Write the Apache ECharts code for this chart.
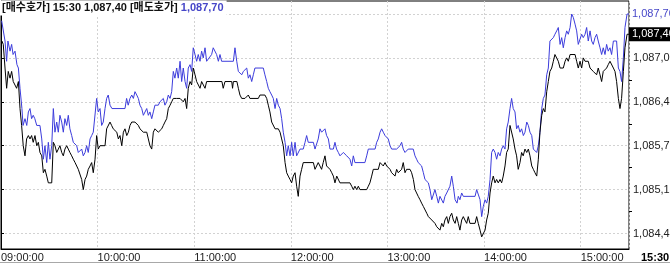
<!DOCTYPE html>
<html><head><meta charset="utf-8">
<script src="https://cdn.jsdelivr.net/npm/echarts@6/dist/echarts.min.js"></script>
<style>html,body{margin:0;padding:0;background:#fff;overflow:hidden}#c{width:670px;height:263px}</style>
</head><body><div id="c"></div>
<script>
// minutes since 09:00, price
const askPoints = [[0.4,1087.60],[2.5,1087.30],[3.5,1087.00],[4.3,1087.30],[5.6,1087.15],[6.6,1087.25],[7.5,1087.10],[8.7,1087.15],[9.9,1086.95],[10.8,1086.90],[11.8,1086.60],[13,1086.30],[13.7,1086.05],[14.9,1086.15],[16,1086.05],[17,1086.25],[18,1086.30],[19,1086.15],[20,1086.20],[21,1086.15],[22.2,1086.05],[24.2,1086.05],[25.3,1085.85],[26.3,1085.55],[27.3,1085.75],[28.4,1085.50],[29.4,1085.80],[30.4,1085.55],[31.5,1085.75],[32.5,1086.30],[33.5,1085.95],[34.6,1086.10],[35.6,1085.95],[36.6,1086.20],[37.7,1086.10],[38.7,1085.95],[39.7,1086.15],[40.8,1086.05],[41.8,1086.20],[42.8,1086.00],[43.9,1085.90],[44.9,1085.80],[47,1085.75],[48,1085.65],[49,1085.65],[50.1,1085.70],[51.1,1085.60],[52.2,1085.65],[53.2,1085.75],[54.2,1085.65],[55.3,1085.85],[56.3,1085.90],[57.3,1085.95],[58.4,1085.95],[59.4,1086.45],[60.4,1086.25],[61.5,1086.30],[62.5,1086.05],[63.5,1086.10],[64.6,1086.30],[65.6,1086.45],[66.6,1086.50],[67.7,1086.35],[68.9,1086.30],[77,1086.30],[78,1086.45],[79,1086.35],[80.1,1086.45],[81.2,1086.50],[82.2,1086.45],[83.2,1086.55],[84.3,1086.50],[85.3,1086.45],[86.3,1086.35],[87.4,1086.30],[88.4,1086.20],[90.5,1086.30],[91.5,1086.20],[92.5,1086.25],[93.6,1086.15],[94.6,1086.25],[95.6,1086.35],[96.7,1086.35],[97.7,1086.35],[98.7,1086.40],[100.8,1086.45],[101.8,1086.35],[102.9,1086.40],[103.9,1086.50],[105,1086.45],[106,1086.55],[107,1086.85],[108,1086.75],[109.1,1086.90],[110.1,1086.75],[111.2,1087.00],[112.2,1086.70],[113.2,1086.90],[114.3,1086.70],[115.3,1086.60],[116.3,1086.90],[117.4,1086.95],[118.4,1086.85],[119.4,1087.20],[120.5,1087.10],[121.5,1087.00],[122.5,1087.10],[123.6,1087.00],[124.6,1087.15],[125.6,1087.05],[126.7,1087.20],[127.7,1087.00],[128.7,1087.00],[130.8,1087.10],[131.8,1087.20],[132.9,1087.20],[133.9,1087.10],[135,1087.00],[136,1087.10],[137,1087.00],[144.3,1087.00],[145.3,1087.20],[146.4,1087.00],[147.4,1086.85],[148.4,1086.85],[149.5,1086.80],[150.5,1086.85],[151.5,1086.85],[152.6,1086.90],[153.6,1086.75],[154.6,1086.80],[155.7,1086.70],[156.7,1086.80],[157.7,1086.90],[162.9,1086.90],[163.9,1086.80],[165,1086.70],[166,1086.60],[167,1086.55],[168.1,1086.50],[169.1,1086.45],[170.2,1086.30],[171.2,1086.45],[172.2,1086.35],[173.3,1086.30],[174.3,1086.15],[175.3,1085.95],[176.4,1085.80],[177.4,1085.60],[178.4,1085.75],[179.5,1085.60],[180.5,1085.80],[181.5,1085.60],[182.6,1085.80],[183.6,1085.60],[185.7,1085.70],[187.7,1085.70],[188.8,1085.80],[189.8,1085.90],[190.8,1085.80],[194,1085.80],[195,1085.70],[196,1085.70],[197,1085.85],[198.1,1086.00],[199.1,1085.95],[200.1,1085.95],[201.2,1086.00],[202.2,1085.90],[203.3,1085.85],[204.3,1085.70],[205.3,1085.70],[206.4,1085.70],[207.4,1085.80],[208.4,1085.70],[209.5,1085.65],[210.5,1085.60],[212.6,1085.65],[214.7,1085.60],[216.7,1085.55],[217.8,1085.45],[218.8,1085.60],[219.8,1085.50],[226,1085.50],[227.1,1085.60],[228.1,1085.70],[232.3,1085.70],[233.3,1085.80],[234.3,1085.85],[235.4,1085.95],[236.4,1086.00],[237.4,1085.95],[238.5,1085.90],[239.5,1085.90],[240.5,1085.85],[241.6,1085.75],[242.6,1085.70],[245.7,1085.70],[247.8,1085.75],[248.8,1085.80],[249.8,1085.70],[250.9,1085.65],[251.9,1085.65],[252.9,1085.70],[256,1085.70],[257.1,1085.60],[258.1,1085.55],[259.1,1085.50],[260.2,1085.50],[261.2,1085.45],[262.3,1085.35],[263.3,1085.25],[264.4,1085.25],[265.4,1085.20],[266.4,1085.10],[267.5,1084.95],[268.5,1084.95],[269.5,1085.10],[270.6,1085.00],[271.6,1084.90],[272.6,1085.00],[273.7,1085.00],[274.7,1084.90],[275.7,1085.00],[276.8,1085.05],[277.8,1085.05],[278.8,1085.15],[279.9,1085.30],[280.9,1085.15],[282,1084.95],[283.2,1084.90],[284,1085.00],[285,1084.95],[286.1,1085.05],[287.1,1085.00],[294.4,1085.00],[295.4,1085.10],[296.4,1085.10],[297.5,1084.95],[298.5,1084.70],[299.5,1084.85],[300.6,1084.95],[301.6,1084.90],[302.6,1085.00],[303.7,1085.25],[304.7,1085.65],[305.7,1085.70],[306.8,1085.65],[307.8,1085.55],[308.8,1085.65],[309.9,1085.60],[310.9,1085.70],[311.9,1085.75],[313,1085.70],[314,1086.00],[315,1086.10],[316.1,1086.30],[317.1,1086.45],[318.1,1086.30],[319.2,1086.25],[320.2,1086.00],[321.2,1086.05],[322.3,1085.95],[323.3,1086.00],[324.4,1085.90],[325.4,1085.95],[326.5,1086.10],[327.5,1086.05],[328.5,1085.95],[329.6,1085.90],[330.6,1085.70],[331.6,1085.70],[332.7,1085.65],[333.7,1085.75],[334.7,1085.95],[335.8,1086.30],[336.8,1086.45],[337.8,1086.50],[338.9,1086.80],[339.9,1086.90],[340.9,1087.30],[342,1087.30],[343,1087.35],[344,1087.40],[345.1,1087.45],[346.1,1087.50],[347.2,1087.25],[348.2,1087.35],[349.2,1087.20],[350.3,1087.35],[351.3,1087.45],[352.3,1087.40],[353.4,1087.50],[354.4,1087.70],[355.4,1087.65],[356.5,1087.55],[357.5,1087.45],[358.5,1087.25],[359.6,1087.25],[360.6,1087.40],[361.6,1087.35],[362.7,1087.40],[363.7,1087.50],[364.7,1087.30],[365.8,1087.45],[366.8,1087.30],[367.8,1087.25],[368.9,1087.35],[369.9,1087.40],[370.9,1087.30],[372,1087.20],[373,1087.10],[374,1087.20],[375.1,1087.10],[376.1,1087.25],[377.1,1087.15],[378.2,1087.20],[379.2,1087.10],[380.3,1087.30],[382.3,1087.30],[383.4,1086.90],[384.4,1086.85],[385.4,1086.70],[386.5,1087.05],[387.5,1087.50],[388.8,1087.70],[390,1087.70]];

const bidPoints = [[0.6,1087.30],[1.4,1087.25],[2.5,1086.90],[3.5,1086.60],[4.5,1086.85],[5.6,1086.75],[6.6,1086.85],[7.6,1086.70],[8.7,1086.70],[9.7,1086.60],[10.8,1086.70],[11.8,1086.30],[12.8,1086.05],[13.8,1085.75],[14.9,1085.60],[15.9,1085.85],[17,1085.90],[18,1085.85],[19,1085.90],[20,1085.80],[21.1,1085.90],[22.2,1085.75],[23.2,1085.80],[24.2,1085.65],[25.3,1085.60],[26.3,1085.35],[27.3,1085.40],[28.4,1085.30],[29.4,1085.20],[31.5,1085.20],[32.5,1085.80],[33.5,1085.75],[34.6,1085.65],[35.6,1085.70],[36.6,1085.75],[37.7,1085.65],[38.7,1085.60],[39.7,1085.70],[40.8,1085.75],[41.8,1085.70],[42.8,1085.65],[43.9,1085.60],[44.9,1085.55],[46,1085.50],[48,1085.40],[50.1,1085.25],[51.1,1085.10],[52.2,1085.25],[53.2,1085.30],[54.2,1085.40],[55.3,1085.45],[56.3,1085.50],[57.3,1085.35],[58.4,1085.55],[59.4,1085.90],[60.4,1085.70],[61.5,1085.75],[64.6,1085.75],[65.6,1086.00],[66.6,1086.00],[67.7,1086.10],[68.7,1086.05],[69.7,1086.00],[71.9,1085.95],[72.9,1085.85],[73.9,1085.90],[75,1085.75],[76,1085.95],[77,1086.00],[78.1,1085.90],[79.1,1085.95],[80.1,1086.05],[81.2,1086.10],[83.2,1086.10],[85.3,1086.05],[86.3,1086.00],[88.4,1085.95],[90.5,1085.95],[91.5,1085.85],[92.5,1085.75],[93.6,1085.70],[94.6,1085.95],[95.6,1086.00],[96.7,1086.00],[97.7,1085.95],[98.7,1085.95],[99.8,1086.00],[100.8,1086.05],[101.8,1086.10],[102.9,1086.15],[103.9,1086.30],[105,1086.35],[106,1086.40],[107,1086.45],[108.1,1086.45],[109.1,1086.45],[110.1,1086.45],[111.2,1086.45],[113.2,1086.40],[114.3,1086.45],[115.3,1086.30],[116.3,1086.60],[117.4,1086.70],[118.4,1086.65],[119.4,1086.90],[120.5,1086.80],[121.5,1086.70],[122.5,1086.70],[123.6,1086.60],[124.6,1086.70],[125.6,1086.70],[126.7,1086.60],[127.7,1086.70],[137.2,1086.70],[138,1086.60],[139.1,1086.70],[143.3,1086.70],[143.8,1086.60],[144.3,1086.70],[146.5,1086.70],[147.4,1086.60],[148.4,1086.50],[149.5,1086.45],[150.5,1086.45],[151.5,1086.45],[153.6,1086.50],[154.6,1086.45],[159.8,1086.45],[160.8,1086.50],[163.9,1086.50],[165,1086.45],[166,1086.35],[167,1086.25],[168.1,1086.10],[170.2,1086.00],[172.2,1086.00],[173.3,1085.95],[174.3,1085.85],[175.3,1085.75],[176.4,1085.50],[177.4,1085.35],[178.4,1085.30],[179.5,1085.25],[180.5,1085.20],[181.5,1085.30],[182.6,1085.35],[183.6,1085.15],[184.6,1085.00],[185.7,1085.30],[186.7,1085.40],[187.7,1085.50],[194,1085.50],[195,1085.40],[196,1085.40],[197,1085.50],[198.1,1085.50],[199.1,1085.40],[200.1,1085.50],[201.2,1085.60],[202.2,1085.45],[204.3,1085.40],[205.4,1085.35],[206.4,1085.30],[207.4,1085.20],[208.5,1085.30],[209.5,1085.30],[210.5,1085.20],[216.7,1085.20],[217.8,1085.15],[218.8,1085.10],[219.8,1085.15],[220.9,1085.10],[221.9,1085.15],[222.9,1085.10],[227.1,1085.10],[228.1,1085.15],[229.1,1085.20],[230.2,1085.30],[231.2,1085.40],[234.3,1085.40],[235.4,1085.50],[236.4,1085.50],[237.4,1085.45],[238.5,1085.50],[239.5,1085.45],[241.6,1085.40],[242.6,1085.35],[244.7,1085.30],[245.7,1085.40],[246.7,1085.35],[247.8,1085.35],[248.8,1085.40],[249.8,1085.50],[250.9,1085.35],[251.9,1085.40],[254,1085.40],[255,1085.35],[256.1,1085.25],[257.1,1085.10],[258.1,1085.05],[259.1,1085.00],[260.2,1084.95],[261.2,1084.90],[262.3,1084.85],[263.3,1084.85],[264.4,1084.75],[265.4,1084.70],[266.4,1084.70],[267.5,1084.65],[268.5,1084.65],[269.5,1084.60],[270.6,1084.55],[271.6,1084.55],[272.6,1084.50],[273.7,1084.60],[274.7,1084.55],[275.7,1084.65],[276.8,1084.70],[277.8,1084.60],[278.8,1084.70],[279.9,1084.75],[280.9,1084.65],[282,1084.60],[283,1084.70],[284,1084.60],[285,1084.50],[286.1,1084.65],[287.1,1084.70],[288.1,1084.65],[289.2,1084.60],[290.2,1084.70],[291.2,1084.60],[294.4,1084.60],[295.4,1084.70],[296.4,1084.60],[297.5,1084.50],[298.5,1084.40],[299.5,1084.40],[300.6,1084.50],[301.6,1084.65],[302.6,1084.75],[303.7,1085.05],[304.7,1085.20],[305.7,1085.30],[306.8,1085.20],[307.8,1085.25],[308.8,1085.20],[309.9,1085.25],[310.9,1085.20],[311.9,1085.30],[313,1085.45],[314,1085.65],[315,1085.70],[316.1,1086.05],[317.1,1086.05],[318.1,1085.85],[319.2,1085.70],[320.2,1085.60],[321.2,1085.40],[322.3,1085.50],[323.3,1085.65],[324.3,1085.60],[325.4,1085.70],[326.5,1085.65],[327.5,1085.70],[328.5,1085.60],[329.6,1085.45],[330.6,1085.40],[331.6,1085.35],[332.7,1085.30],[333.7,1085.55],[334.7,1085.95],[335.8,1086.20],[336.8,1086.30],[337.8,1086.25],[338.9,1086.55],[339.9,1086.70],[340.9,1086.85],[342,1086.90],[343,1087.00],[344,1087.10],[345.1,1087.10],[346.1,1087.00],[347.2,1086.90],[349.2,1086.90],[350.3,1087.00],[351.3,1087.05],[352.3,1087.00],[353.4,1087.10],[356.5,1087.10],[357.5,1087.00],[358.5,1086.90],[359.6,1087.00],[360.6,1086.90],[361.6,1087.05],[362.7,1087.00],[364.7,1087.00],[365.8,1086.90],[366.8,1086.90],[367.8,1086.85],[368.9,1086.85],[369.9,1086.80],[370.9,1086.90],[372,1086.80],[373,1086.70],[374,1086.85],[375.1,1086.85],[376.1,1086.90],[377.1,1086.95],[378.2,1087.00],[379.2,1087.00],[380.3,1086.90],[381.3,1086.85],[382.3,1086.70],[383.4,1086.45],[384.4,1086.30],[385.4,1086.45],[386.5,1086.85],[387.5,1087.20],[388.8,1087.40],[390,1087.40]];

const hourLabels = ['09:00:00','10:00:00','11:00:00','12:00:00','13:00:00','14:00:00','15:00:00'];
const closeLabel = '15:30';
const yGridValues = [1084.45, 1085.10, 1085.75, 1086.40, 1087.05, 1087.70];
const yLabelValues = [1084.45, 1085.10, 1085.75, 1086.40, 1087.05];
const yMinorValues = [1084.775, 1085.425, 1086.075, 1086.725, 1087.375];
const bidName = '[매수호가]';
const askName = '[매도호가]';
const Y_MIN = 1084.2205, Y_MAX = 1087.8925;

const NUMFONT = "'Liberation Sans', Arial, sans-serif";
const KRFONT = "'Liberation Sans', 'Noto Sans CJK KR', sans-serif";
const BLUE = '#3c3cdc';
const BLUE_TXT = '#4646c8';
const GRIDC = '#d2d2d2';

function fmt(v) {
  const s = Number(v).toFixed(2).split('.');
  return s[0].replace(/\B(?=(\d{3})+(?!\d))/g, ',') + ',' + s[1];
}
const bidLast = bidPoints[bidPoints.length - 1][1];
const askLast = askPoints[askPoints.length - 1][1];

const chart = echarts.init(document.getElementById('c'), null, {renderer: 'canvas'});
chart.setOption({
  animation: false,
  backgroundColor: '#fff',
  title: {
    left: 0, top: 0, padding: [2, 3, 2, 2], backgroundColor: '#fff', z: 10,
    text: '{k|' + bidName + ' ' + closeLabel + ' ' + fmt(bidLast) + ' ' + askName + ' }{v|' + fmt(askLast) + '}',
    textStyle: {
      rich: {
        k: {color: '#111', fontSize: 11, fontFamily: KRFONT, lineHeight: 12},
        v: {color: BLUE_TXT, fontSize: 11, fontFamily: KRFONT, lineHeight: 12}
      }
    }
  },
  grid: {left: 1, top: 1, right: 41, bottom: 14, show: true, borderColor: '#000', borderWidth: 1,
    backgroundColor: '#fff', containLabel: false, outerBoundsMode: 'none'},
  xAxis: {
    type: 'value', min: 0, max: 390, interval: 60,
    axisLine: {show: true, lineStyle: {color: '#000', width: 1}},
    axisTick: {show: false},
    axisLabel: {
      align: 'left', margin: 3, color: '#222', fontSize: 11, fontFamily: NUMFONT,
      showMinLabel: true, showMaxLabel: true,
      formatter: function (v) { return v === 390 ? '{b|' + closeLabel + '}' : hourLabels[Math.round(v / 60)]; },
      rich: {b: {fontWeight: 'bold', fontSize: 11, color: '#000', fontFamily: NUMFONT, padding: [0, 0, 0, 12]}}
    },
    splitLine: {show: true, lineStyle: {color: GRIDC, type: [2, 2], width: 1}}
  },
  yAxis: [{
    type: 'value', position: 'right', min: Y_MIN, max: Y_MAX,
    axisLine: {show: true, lineStyle: {color: '#000', width: 1}},
    axisTick: {show: true, inside: false, length: 3, customValues: yGridValues, lineStyle: {color: '#000'}},
    axisLabel: {customValues: yLabelValues, formatter: fmt, margin: 4, color: '#222', fontSize: 11, fontFamily: NUMFONT},
    splitLine: {show: true, lineStyle: {color: GRIDC, type: [2, 2], width: 1}}
  }, {
    type: 'value', position: 'right', min: Y_MIN, max: Y_MAX,
    axisLine: {show: false},
    axisTick: {show: true, inside: false, length: 3, customValues: yMinorValues, lineStyle: {color: '#000'}},
    axisLabel: {show: false},
    splitLine: {show: false}
  }],
  series: [{
    name: bidName, type: 'line', data: bidPoints, showSymbol: false, symbol: 'none', clip: false,
    lineStyle: {color: '#000', width: 1}, itemStyle: {color: '#000'}, z: 3,
    markLine: {
      silent: true, symbol: 'none', animation: false,
      lineStyle: {color: 'rgba(0,0,0,0)', width: 0},
      data: [{yAxis: bidLast}],
      label: {show: true, position: 'end', distance: 0, formatter: function (p) { return fmt(p.value); },
        color: '#fff', backgroundColor: '#000', padding: [2, 4, 1, 3], fontSize: 11, fontFamily: NUMFONT}
    }
  }, {
    name: askName, type: 'line', data: askPoints, showSymbol: false, symbol: 'none', clip: false,
    lineStyle: {color: BLUE, width: 1}, itemStyle: {color: BLUE}, z: 2,
    markLine: {
      silent: true, symbol: 'none', animation: false,
      lineStyle: {color: 'rgba(0,0,0,0)', width: 0},
      data: [{yAxis: askLast}],
      label: {show: true, position: 'end', distance: 3, formatter: function (p) { return fmt(p.value); },
        color: BLUE_TXT, fontSize: 11, fontFamily: NUMFONT}
    }
  }],
  graphic: [{
    type: 'line', silent: true, z: 100,
    shape: {x1: 0, y1: 262.5, x2: 670, y2: 262.5},
    style: {stroke: '#a8a8a8', lineWidth: 1}
  }]
});
</script>
</body></html>
